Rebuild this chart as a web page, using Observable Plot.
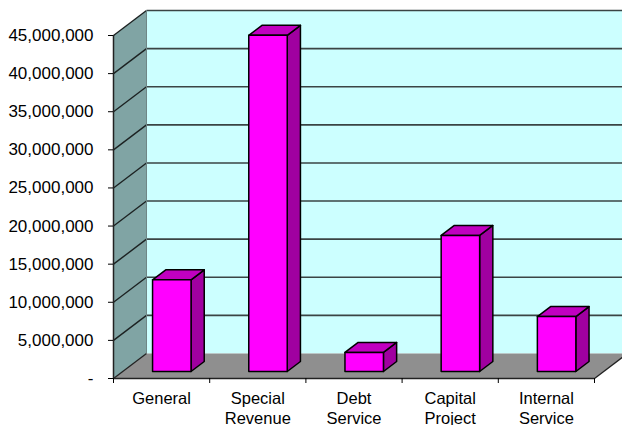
<!DOCTYPE html>
<html>
<head>
<meta charset="utf-8">
<script src="https://cdn.jsdelivr.net/npm/d3@7"></script>
<script src="https://cdn.jsdelivr.net/npm/@observablehq/plot@0.6"></script>
<style>
  html, body { margin: 0; padding: 0; background: #fff; }
  svg { display: block; }
</style>
</head>
<body>
<div id="chart"></div>
<script>
// Fund totals
const funds = ["General", "Special\nRevenue", "Debt\nService", "Capital\nProject", "Internal\nService"];
const totals = [12030000, 44100000, 2500000, 17850000, 7200000];
const gridValues = [5e6, 10e6, 15e6, 20e6, 25e6, 30e6, 35e6, 40e6, 45e6];
const yTicks = [0, ...gridValues];

// Oblique projection: a point at depth d (0 front, 1 back) shifts right and up in data units
const depthX = 0.343;
const depthY = 3.28e6;
const px = (band, d) => band + d * depthX;
const py = (value, d) => value + d * depthY;

// Bar placement inside a category band and inside the chart's depth
const barStart = 0.31, barWidth = 0.4, depthNear = 0.28, depthFar = 0.68;

const pt = (bar, band, value, d) => ({bar, x: px(band, d), y: py(value, d)});
const polygon = (bar, corners) => [...corners, corners[0]].map(([b, v, d]) => pt(bar, b, v, d));

const frontFaces = totals.flatMap((v, i) => {
  const a = i + barStart, b = a + barWidth;
  return polygon(i, [[a, 0, depthNear], [b, 0, depthNear], [b, v, depthNear], [a, v, depthNear]]);
});
const sideFaces = totals.flatMap((v, i) => {
  const b = i + barStart + barWidth;
  return polygon(i, [[b, 0, depthNear], [b, 0, depthFar], [b, v, depthFar], [b, v, depthNear]]);
});
const topFaces = totals.flatMap((v, i) => {
  const a = i + barStart, b = a + barWidth;
  return polygon(i, [[a, v, depthNear], [b, v, depthNear], [b, v, depthFar], [a, v, depthFar]]);
});

const backWall = polygon(0, [[0, 0, 1], [5, 0, 1], [5, 45e6, 1], [0, 45e6, 1]]);
const sideWall = polygon(0, [[0, 0, 0], [0, 0, 1], [0, 45e6, 1], [0, 45e6, 0]]);
const floor = polygon(0, [[0, 0, 0], [5, 0, 0], [5, 0, 1], [0, 0, 1]]);

const gridLine = "#3a4444";
const font = "'Liberation Sans', Arial, sans-serif";

const chart = Plot.plot({
  width: 622,
  height: 425,
  marginLeft: 113,
  marginRight: 28,
  marginTop: 35,
  marginBottom: 47,
  style: {background: "#fff", fontFamily: font},
  x: {type: "linear", domain: [0, 5]},
  y: {type: "linear", domain: [0, 45e6]},
  marks: [
    // Chart box: back wall, side wall, floor
    Plot.line(backWall, {x: "x", y: "y", fill: "#ccffff", stroke: "none"}),
    Plot.line(sideWall, {x: "x", y: "y", fill: "#80a4a4", stroke: "none"}),
    Plot.line(floor, {x: "x", y: "y", fill: "#8f8f8f", stroke: "none"}),

    // Gridlines run across the back wall and down the side wall
    Plot.link(gridValues, {
      x1: () => px(0, 1), x2: () => px(5, 1),
      y1: v => py(v, 1), y2: v => py(v, 1),
      stroke: gridLine, strokeWidth: 1.6
    }),
    Plot.link(gridValues, {
      x1: () => px(0, 0), x2: () => px(0, 1),
      y1: v => py(v, 0), y2: v => py(v, 1),
      stroke: "#1c2222", strokeWidth: 1.4
    }),
    // Box edges
    Plot.link([0, 5], {
      x1: b => px(b, 0), x2: b => px(b, 1),
      y1: () => py(0, 0), y2: () => py(0, 1),
      stroke: "#222", strokeWidth: 1.3
    }),
    Plot.ruleX([0], {y1: 0, y2: 45e6, stroke: "#222", strokeWidth: 1.5}),
    Plot.ruleX([px(0, 1)], {y1: py(0, 1), y2: py(45e6, 1), stroke: "#6f8585", strokeWidth: 1}),
    Plot.ruleY([0], {x1: 0, x2: 5, stroke: "#222", strokeWidth: 1.5}),

    // Bars
    Plot.line(sideFaces, {x: "x", y: "y", z: "bar", fill: "#a000a0", stroke: "#000", strokeWidth: 1.5}),
    Plot.line(topFaces, {x: "x", y: "y", z: "bar", fill: "#c000c0", stroke: "#000", strokeWidth: 1.5}),
    Plot.line(frontFaces, {x: "x", y: "y", z: "bar", fill: "#ff00ff", stroke: "#000", strokeWidth: 1.5}),

    // Axes
    Plot.axisY({
      ticks: yTicks,
      tickSize: 5,
      tickPadding: 15,
      stroke: "#000",
      fill: "#000",
      fontSize: 17,
      label: null,
      tickFormat: v => v === 0 ? "-" : d3.format(",")(v)
    }),
    Plot.axisX({
      ticks: [0, 1, 2, 3, 4, 5],
      tickSize: 5,
      stroke: "#000",
      tickFormat: () => "",
      label: null
    }),
    Plot.axisX({
      ticks: funds.map((f, i) => i + 0.5),
      tickSize: 0,
      tickPadding: 11,
      fontSize: 16.5,
      lineHeight: 1.22,
      fill: "#000",
      label: null,
      tickFormat: t => funds[Math.floor(t)]
    })
  ]
});
document.getElementById("chart").append(chart);
</script>
</body>
</html>
